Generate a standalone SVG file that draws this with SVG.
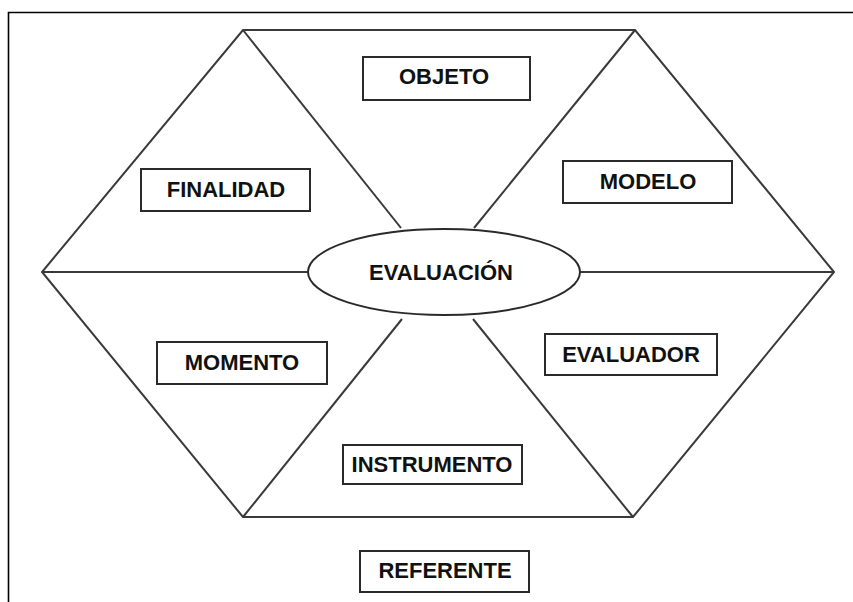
<svg xmlns="http://www.w3.org/2000/svg" width="853" height="602" viewBox="0 0 853 602">
<style>
.frame{fill:none;stroke:#000;stroke-width:1.6}
.hex{fill:none;stroke:#3a3a3a;stroke-width:2;stroke-linejoin:miter}
.box{fill:#fff;stroke:#2a2a2a;stroke-width:2}
.lbl{font-family:"Liberation Sans",Arial,sans-serif;font-size:22px;font-weight:bold;fill:#111;text-anchor:middle}
</style>
<rect width="853" height="602" fill="#fff"/>
<path class="frame" d="M8.5,602 V12.5 H853"/>
<g id="connectors">
<polygon class="hex" points="243,30 635,30 834,272 633,517 243,517 42,272"/>
<line class="hex" x1="42" y1="272" x2="308" y2="272"/>
<line class="hex" x1="580" y1="272" x2="834" y2="272"/>
<line class="hex" x1="243" y1="30" x2="401" y2="228"/>
<line class="hex" x1="635" y1="30" x2="474" y2="228"/>
<line class="hex" x1="633" y1="517" x2="473" y2="319"/>
<line class="hex" x1="243" y1="517" x2="402" y2="319"/>
</g>
<g id="evaluacion">
<ellipse class="box" cx="444" cy="272" rx="136" ry="43"/>
<text class="lbl" x="441" y="280">EVALUACIÓN</text>
</g>
<g id="objeto">
<rect class="box" x="363" y="57" width="167" height="43"/>
<text class="lbl" x="444" y="84">OBJETO</text>
</g>
<g id="finalidad">
<rect class="box" x="141" y="169" width="169" height="42"/>
<text class="lbl" x="226" y="197">FINALIDAD</text>
</g>
<g id="modelo">
<rect class="box" x="563" y="161" width="169" height="42"/>
<text class="lbl" x="648" y="189">MODELO</text>
</g>
<g id="momento">
<rect class="box" x="157" y="342" width="170" height="42"/>
<text class="lbl" x="242" y="370">MOMENTO</text>
</g>
<g id="evaluador">
<rect class="box" x="545" y="334" width="172" height="41"/>
<text class="lbl" x="631" y="362">EVALUADOR</text>
</g>
<g id="instrumento">
<rect class="box" x="343" y="445" width="179" height="39"/>
<text class="lbl" x="432" y="472">INSTRUMENTO</text>
</g>
<g id="referente">
<rect class="box" x="360" y="551" width="169" height="41"/>
<text class="lbl" x="445" y="578">REFERENTE</text>
</g>
</svg>
